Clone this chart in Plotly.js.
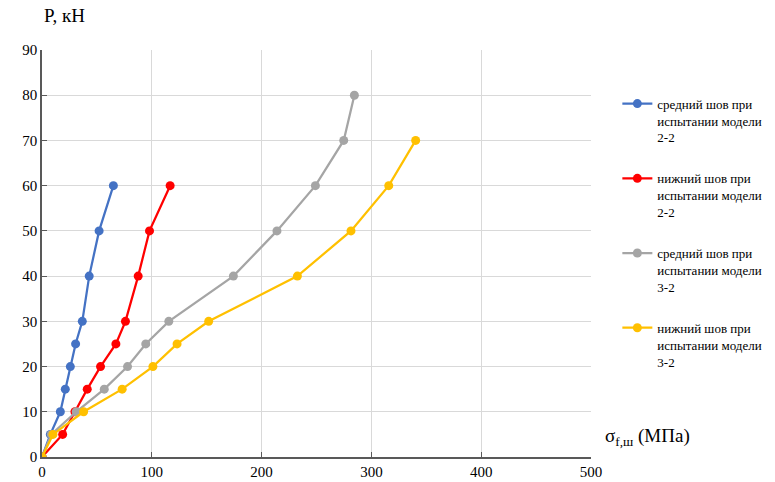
<!DOCTYPE html>
<html><head><meta charset="utf-8">
<script src="https://cdn.plot.ly/plotly-3.0.1.min.js"></script>
<style>
body{margin:0;background:#fff}#c{width:775px;height:482px}
#c .xtick text, #c .ytick text, #c .legendtext, #c .annotation-text {font-family: 'Liberation Serif', 'Times New Roman', serif !important;}
</style>
</head><body><div id="c"></div>
<script>
var loads = [0, 5, 10, 15, 20, 25, 30, 40, 50, 60];
var loads32 = [0, 5, 10, 15, 20, 25, 30, 40, 50, 60, 70, 80];
var loads32b = [0, 5, 10, 15, 20, 25, 30, 40, 50, 60, 70];
var mid22 = [0, 7.6, 16.7, 21.2, 25.8, 30.6, 36.7, 43, 52, 65];
var low22 = [0, 18.8, 30, 41.2, 53.3, 67.3, 76, 87.6, 97.9, 116.7];
var mid32 = [0, 8.5, 31.2, 56.7, 77.9, 94.5, 115.5, 174.3, 214, 249, 274.8, 284.5];
var low32 = [0, 10, 37.9, 73, 101, 123, 151.8, 232.6, 281.4, 315.8, 340.3];
var names = [
  "средний шов при<br>испытании модели<br>2-2",
  "нижний шов при<br>испытании модели<br>2-2",
  "средний шов при<br>испытании модели<br>3-2",
  "нижний шов при<br>испытании модели<br>3-2"
];
var colors = ["#4472C4", "#FF0000", "#A5A5A5", "#FFC000"];
var xs = [mid22, low22, mid32, low32];
var ys = [loads, loads, loads32, loads32b];
var traces = xs.map(function(x, i){
  return {x: x, y: ys[i], name: names[i], legendgroup: "g"+i, type: "scatter", mode: "lines+markers",
    line: {color: colors[i], width: 2.25}, marker: {color: colors[i], size: 9}};
});
var FAM = "Liberation Serif";
var font = {family: FAM, size: 15, color: "#000"};
var layout = {
  width: 775, height: 482,
  margin: {l: 42, r: 184, t: 50, b: 25, autoexpand: false},
  paper_bgcolor: "#fff", plot_bgcolor: "#fff",
  font: {family: FAM},
  showlegend: true,
  legend: {x: 1.048, y: 0.905, xanchor: "left", yanchor: "top", valign: "top",
    traceorder: "grouped", tracegroupgap: 21, itemwidth: 30,
    font: {family: FAM, size: 13, color: "#000"}},
  xaxis: {range: [0, 500], dtick: 100, showgrid: true, gridcolor: "#d9d9d9", gridwidth: 1,
    zeroline: false, showline: true, linecolor: "#595959", linewidth: 1.5,
    ticks: "inside", ticklen: 5, tickcolor: "#595959", tickfont: font},
  yaxis: {range: [0, 90], dtick: 10, showgrid: true, gridcolor: "#d9d9d9", gridwidth: 1,
    zeroline: false, showline: true, linecolor: "#595959", linewidth: 1.5,
    ticks: "inside", ticklen: 5, tickcolor: "#595959", tickfont: font},
  annotations: [
    {text: "P, кН", xref: "paper", yref: "paper", x: 0, y: 1.055, xanchor: "left", yanchor: "bottom",
      showarrow: false, font: {family: FAM, size: 19, color: "#000"}},
    {text: "σ<sub>f,ш</sub> (МПа)", xref: "paper", yref: "paper", x: 1.022, y: 0.015, xanchor: "left", yanchor: "bottom",
      showarrow: false, font: {family: FAM, size: 19, color: "#000"}}
  ]
};
Plotly.newPlot("c", traces, layout, {displayModeBar: false});
</script></body></html>
